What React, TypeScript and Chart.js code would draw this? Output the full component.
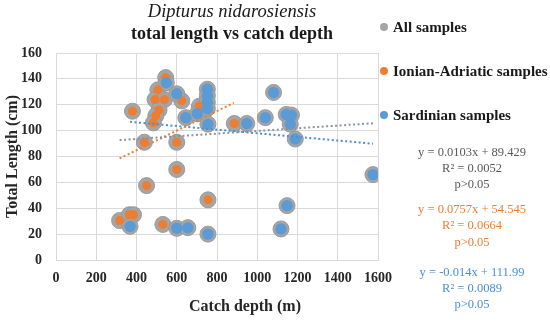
import React, { useEffect, useRef } from "react";
import { Chart, registerables } from "chart.js";

Chart.register(...registerables);

// Ionian-Adriatic samples (catch depth m, total length cm)
const ionianX = [380, 506, 492, 539, 512, 496, 484, 545, 439, 600, 625, 713, 886, 600, 450, 755, 316, 365, 385, 531];
const ionianY = [115, 131.5, 124, 124, 116, 111.5, 106, 141, 91, 91, 123, 119, 105.5, 70, 57.5, 46.5, 30.5, 35, 35, 27.5];

// Sardinian samples
const sardX = [368, 600, 655, 755, 1148, 1118, 1575, 548, 600, 645, 702, 752, 752, 752, 752, 755, 948, 1040, 1081, 1144, 1170, 1164, 1189];
const sardY = [26, 24.5, 25, 20, 42, 24, 66, 137, 128.5, 110, 113, 132, 127, 122, 117, 105, 105.5, 110, 129.5, 112.5, 112, 105, 93.5];

// All samples = both groups
const allX = [...ionianX, ...sardX];
const allY = [...ionianY, ...sardY];

// Trend lines (endpoints)
const trendAllX = [316, 1575];
const trendAllY = [92.7, 105.7];
const trendIonX = [316, 884];
const trendIonY = [78.5, 121.5];
const trendSardX = [368, 1575];
const trendSardY = [106.8, 89.9];

const legendLabels = ["All samples", "Ionian-Adriatic samples", "Sardinian samples"];
const eqAll = ["y = 0.0103x + 89.429", "R² = 0.0052", "p>0.05"];
const eqIon = ["y = 0.0757x + 54.545", "R² = 0.0664", "p>0.05"];
const eqSard = ["y = -0.014x + 111.99", "R² = 0.0089", "p>0.05"];

const GREY = "#A5A5A5";
const ORANGE = "#ED7D31";
const BLUE = "#5B9BD5";
const FONT = '"Liberation Serif", "DejaVu Serif", serif';

const pts = (xs: number[], ys: number[]) => xs.map((x, i) => ({ x, y: ys[i] }));

const overlay = {
  id: "overlay",
  afterDraw(chart: any) {
    const ctx = chart.ctx as CanvasRenderingContext2D;
    ctx.save();
    ctx.textBaseline = "middle";
    ctx.textAlign = "center";
    ctx.fillStyle = "#1a1a1a";
    ctx.font = `italic 18.5px ${FONT}`;
    ctx.fillText("Dipturus nidarosiensis", 232, 12);
    ctx.font = `bold 18px ${FONT}`;
    ctx.fillText("total length vs catch depth", 232, 34);

    ctx.font = `bold 16px ${FONT}`;
    ctx.fillStyle = "#262626";
    ctx.fillText("Catch depth (m)", 245, 307);

    const legY = [27, 71, 115];
    const legC = [GREY, ORANGE, BLUE];
    ctx.textAlign = "left";
    ctx.font = `bold 15px ${FONT}`;
    legendLabels.forEach((t, i) => {
      ctx.beginPath();
      ctx.fillStyle = legC[i];
      ctx.arc(384, legY[i], 4, 0, Math.PI * 2);
      ctx.fill();
      ctx.fillStyle = "#1a1a1a";
      ctx.fillText(t, 393, legY[i] + 1);
    });

    ctx.textAlign = "center";
    ctx.font = `12.5px ${FONT}`;
    const groups: [string[], string, number[]][] = [
      [eqAll, "#595959", [153, 169, 185]],
      [eqIon, ORANGE, [210, 226, 243]],
      [eqSard, "#4A8FD4", [273, 289, 305]],
    ];
    groups.forEach(([lines, col, ys]) => {
      ctx.fillStyle = col;
      lines.forEach((l, i) => ctx.fillText(l, 472, ys[i]));
    });
    ctx.restore();
  },
};

export default function App() {
  const ref = useRef<HTMLCanvasElement>(null);
  useEffect(() => {
    if (!ref.current) return;
    const trend = (xs: number[], ys: number[], color: string, label: string) => ({
      label,
      data: pts(xs, ys),
      showLine: true,
      borderColor: color,
      borderWidth: 2,
      borderDash: [2, 2.5],
      pointRadius: 0,
      fill: false,
      order: 0,
    });
    const chart = new Chart(ref.current, {
      type: "scatter",
      data: {
        datasets: [
          {
            label: "All samples",
            data: pts(allX, allY),
            backgroundColor: GREY,
            borderColor: "#9A9A9A",
            borderWidth: 1,
            pointRadius: 8,
            order: 3,
          },
          {
            label: "Ionian-Adriatic samples",
            data: pts(ionianX, ionianY),
            backgroundColor: ORANGE,
            borderWidth: 0,
            pointRadius: 4.5,
            order: 2,
          },
          {
            label: "Sardinian samples",
            data: pts(sardX, sardY),
            backgroundColor: BLUE,
            borderWidth: 0,
            pointRadius: 5.7,
            order: 1,
          },
          trend(trendAllX, trendAllY, "#8A93A0", "trend all"),
          trend(trendIonX, trendIonY, ORANGE, "trend ionian"),
          trend(trendSardX, trendSardY, "#4A8FD4", "trend sardinian"),
        ] as any,
      },
      options: {
        responsive: false,
        animation: false,
        layout: { padding: { top: 53, right: 172, left: 0, bottom: 0 } },
        plugins: { legend: { display: false }, title: { display: false }, tooltip: { enabled: false } },
        scales: {
          x: {
            type: "linear",
            min: 0,
            max: 1600,
            afterFit: (s: any) => {
              s.height = 62;
            },
            ticks: {
              stepSize: 200,
              padding: 10,
              color: "#262626",
              font: { family: FONT, size: 14, weight: "bold" },
              callback: (v: any) => String(v),
            },
            grid: { color: "#D9D9D9", drawTicks: false },
            border: { color: "#D9D9D9" },
          },
          y: {
            min: 0,
            max: 160,
            afterFit: (s: any) => {
              s.width = 56;
            },
            ticks: {
              stepSize: 20,
              padding: 14,
              color: "#262626",
              font: { family: FONT, size: 14, weight: "bold" },
              callback: (v: any) => String(v),
            },
            grid: { color: "#D9D9D9", drawTicks: false },
            border: { color: "#D9D9D9" },
            title: {
              display: true,
              text: "Total Length (cm)",
              color: "#262626",
              font: { family: FONT, size: 16, weight: "bold" },
              padding: { top: 3, bottom: 0 },
            },
          },
        },
      } as any,
      plugins: [overlay],
    });
    return () => chart.destroy();
  }, []);
  return (
    <div style={{ position: "fixed", left: 0, top: 0, width: 550, height: 322, background: "#fff" }}>
      <canvas ref={ref} width={550} height={322} style={{ width: 550, height: 322, display: "block" }} />
    </div>
  );
}
